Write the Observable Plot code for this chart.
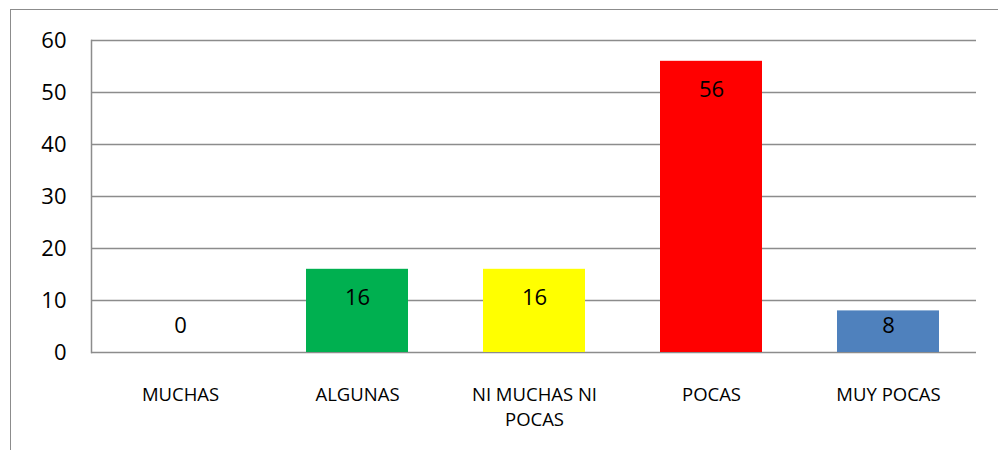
<!DOCTYPE html>
<html>
<head>
<meta charset="utf-8">
<script src="https://cdn.jsdelivr.net/npm/d3@7"></script>
<script src="https://cdn.jsdelivr.net/npm/@observablehq/plot@0.6"></script>
<style>
  html, body { margin: 0; padding: 0; background: #fff; overflow: hidden; }
  #wrap { position: relative; width: 998px; height: 450px; }
  #border { position: absolute; left: 9.5px; top: 9px; width: 1100px; height: 600px;
            border-left: 1.5px solid #8c8c8c; border-top: 1.5px solid #8c8c8c; }
  #chart { position: absolute; left: 0; top: 0; }
</style>
</head>
<body>
<div id="wrap"><div id="border"></div><div id="chart"></div></div>
<script>
const categories = ["MUCHAS", "ALGUNAS", "NI MUCHAS NI POCAS", "POCAS", "MUY POCAS"];
const categoryLabels = ["MUCHAS", "ALGUNAS", "NI MUCHAS NI\nPOCAS", "POCAS", "MUY POCAS"];
const values = [0, 16, 16, 56, 8];
const colors = ["#ffffff", "#00b050", "#ffff00", "#ff0000", "#4f81bd"];
const yTicks = [0, 10, 20, 30, 40, 50, 60];

const data = categories.map((c, i) => ({category: c, value: values[i], color: colors[i]}));
const labelOf = new Map(categories.map((c, i) => [c, categoryLabels[i]]));

const chart = Plot.plot({
  width: 998,
  height: 450,
  marginLeft: 91,
  marginRight: 22,
  marginTop: 40,
  marginBottom: 98,
  style: {fontFamily: "'Open Sans', sans-serif", background: "transparent", color: "#000"},
  x: {domain: categories, paddingInner: 0.424, paddingOuter: 0.212, axis: null, label: null},
  y: {domain: [0, 60], axis: null, label: null},
  marks: [
    Plot.ruleY(yTicks, {stroke: "#8c8c8c", strokeWidth: 1.5}),
    Plot.frame({anchor: "left", stroke: "#8c8c8c", strokeWidth: 1.5}),
    Plot.barY(data, {x: "category", y: "value", fill: "color"}),
    Plot.text(data, {x: "category", y: d => Math.max(d.value - 5.6, 5.2), text: d => String(d.value),
      fontSize: 22, fill: "#000"}),
    Plot.axisY({ticks: yTicks, tickSize: 0, tickPadding: 25, fontSize: 22, fill: "#000", label: null}),
    Plot.axisX({tickSize: 0, tickPadding: 31, fontSize: 18.5, lineHeight: 1.35,
      tickFormat: d => labelOf.get(d), fill: "#000", label: null})
  ]
});
document.getElementById("chart").appendChild(chart);
</script>
</body>
</html>
